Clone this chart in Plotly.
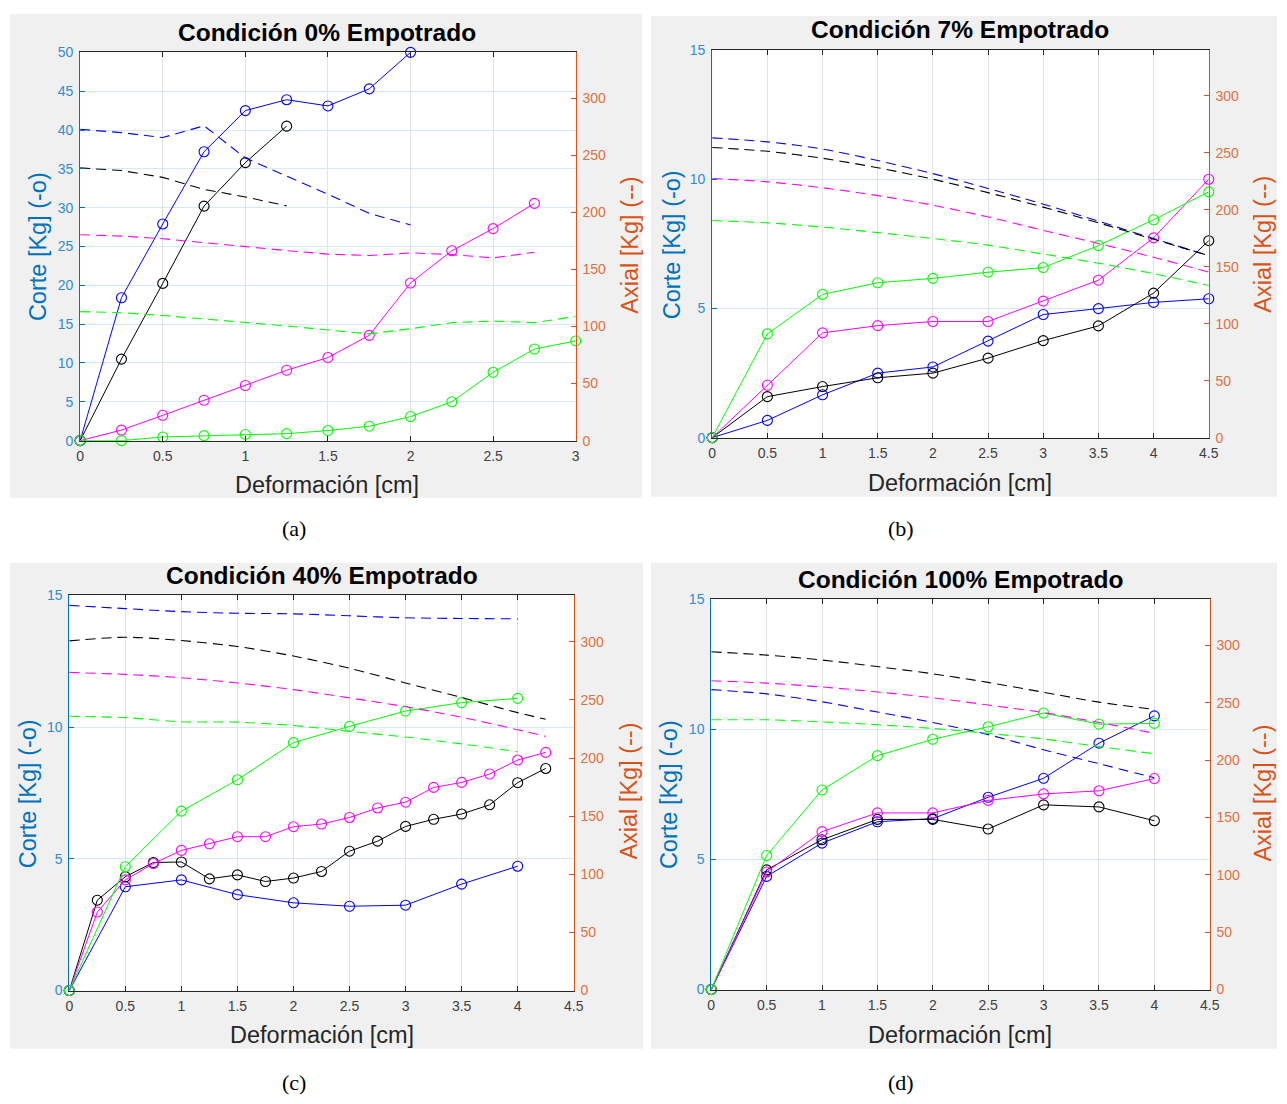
import plotly.graph_objects as go

# ---------------- DATA ----------------
# Panel (a): Condición 0% Empotrado
a_x = [0, 0.25, 0.5, 0.75, 1, 1.25, 1.5, 1.75, 2, 2.25, 2.5, 2.75, 3]
a_corte_blue = [0, 18.4, 27.9, 37.2, 42.5, 43.9, 43.1, 45.3, 50.0]
a_corte_black = [0, 10.5, 20.25, 30.2, 35.8, 40.5]
a_corte_magenta = [0, 1.36, 3.26, 5.2, 7.1, 9.07, 10.7, 13.56, 20.3, 24.45, 27.3, 30.55]
a_corte_green = [0, 0, 0.47, 0.64, 0.8, 0.9, 1.3, 1.86, 3.1, 5.0, 8.8, 11.8, 12.84]
a_axial_blue = [272.6, 269.7, 265.4, 275.7, 247.5, 231.6, 215.8, 199.0, 188.9]
a_axial_black = [238.8, 236.5, 230.5, 220.0, 213.4, 205.6]
a_axial_magenta = [180.3, 179.1, 176.8, 173.6, 169.9, 166.4, 163.3, 162.1, 164.4, 163.0, 160.0, 165.0]
a_axial_green = [113.0, 112.0, 109.6, 106.7, 103.3, 100.4, 96.9, 93.5, 98.0, 103.3, 104.7, 103.3, 108.7]

# Panel (b): Condición 7% Empotrado
b_x = [0, 0.5, 1, 1.5, 2, 2.5, 3, 3.5, 4, 4.5]
b_corte_blue = [0, 0.67, 1.66, 2.5, 2.74, 3.74, 4.77, 5.0, 5.24, 5.38]
b_corte_black = [0, 1.59, 1.98, 2.32, 2.5, 3.08, 3.76, 4.33, 5.6, 7.63]
b_corte_magenta = [0, 2.03, 4.06, 4.34, 4.5, 4.5, 5.29, 6.1, 7.74, 10.01]
b_corte_green = [0, 4.02, 5.55, 6.0, 6.17, 6.41, 6.59, 7.44, 8.44, 9.52]
b_axial_blue = [263.2, 259.7, 253.4, 243.3, 231.8, 218.8, 205.0, 190.0, 174.8, 159.8]
b_axial_black = [254.8, 251.4, 245.3, 237.0, 226.9, 215.1, 202.4, 188.6, 174.2, 159.8]
b_axial_magenta = [227.5, 224.6, 219.4, 212.5, 204.1, 193.8, 182.0, 170.5, 158.4, 145.4]
b_axial_green = [190.6, 188.6, 184.9, 180.0, 174.8, 169.0, 161.2, 153.2, 144.0, 133.6]

# Panel (c): Condición 40% Empotrado
c_x_half = [0, 0.5, 1, 1.5, 2, 2.5, 3, 3.5, 4]
c_x_quarter = [0, 0.25, 0.5, 0.75, 1, 1.25, 1.5, 1.75, 2, 2.25, 2.5, 2.75, 3, 3.25, 3.5, 3.75, 4, 4.25]
c_x_dash = [0, 0.5, 1, 1.5, 2, 2.5, 3, 3.5, 4, 4.25]
c_corte_blue = [0, 3.94, 4.2, 3.64, 3.33, 3.2, 3.24, 4.04, 4.72]
c_corte_black = [0, 3.43, 4.32, 4.86, 4.88, 4.24, 4.39, 4.14, 4.27, 4.52, 5.29, 5.67, 6.23, 6.5, 6.7, 7.05, 7.89, 8.43]
c_corte_magenta = [0, 2.98, 4.2, 4.82, 5.32, 5.57, 5.84, 5.84, 6.22, 6.32, 6.57, 6.93, 7.15, 7.71, 7.9, 8.22, 8.75, 9.04]
c_corte_green = [0, 4.7, 6.81, 8.0, 9.41, 10.03, 10.61, 10.93, 11.09]
c_axial_blue = [331.4, 328.6, 326.0, 324.6, 324.1, 322.4, 320.7, 320.1, 319.8]
c_axial_black = [300.8, 304.0, 301.1, 296.0, 287.8, 277.3, 264.6, 252.1, 239.1, 233.4]
c_axial_magenta = [273.7, 272.0, 269.1, 264.6, 258.9, 251.8, 244.2, 235.1, 224.4, 218.7]
c_axial_green = [236.0, 234.8, 231.2, 230.9, 228.0, 223.0, 218.1, 212.2, 205.4]

# Panel (d): Condición 100% Empotrado
d_x = [0, 0.5, 1, 1.5, 2, 2.5, 3, 3.5, 4]
d_corte_blue = [0, 4.35, 5.63, 6.45, 6.57, 7.39, 8.12, 9.47, 10.52]
d_corte_black = [0, 4.6, 5.76, 6.54, 6.54, 6.17, 7.1, 7.02, 6.49]
d_corte_magenta = [0, 4.52, 6.07, 6.79, 6.79, 7.27, 7.52, 7.64, 8.11]
d_corte_green = [0, 5.15, 7.67, 8.99, 9.62, 10.1, 10.63, 10.2, 10.23]
d_axial_black = [294.3, 291.4, 287.1, 281.4, 275.1, 267.6, 259.0, 250.4, 244.1]
d_axial_magenta = [269.0, 267.0, 263.6, 259.3, 254.2, 247.9, 241.3, 232.7, 223.2]
d_axial_blue = [261.3, 257.6, 250.7, 241.8, 232.7, 222.1, 208.9, 196.8, 184.5]
d_axial_green = [235.0, 235.0, 233.2, 230.7, 227.5, 223.2, 218.3, 211.7, 205.4]

titles = ["Condición 0% Empotrado", "Condición 7% Empotrado",
          "Condición 40% Empotrado", "Condición 100% Empotrado"]
captions = ["(a)", "(b)", "(c)", "(d)"]
x_label = "Deformación [cm]"
y_left_label = "Corte [Kg] (-o)"
y_right_label = "Axial [Kg] (--)"

# ---------------- STYLE / LAYOUT ----------------
W, H = 1287, 1104
BLUE = "#0000FF"
BLACK = "#000000"
MAGENTA = "#FF00FF"
GREEN = "#00FF00"
LEFT_C = "#0072BD"
RIGHT_C = "#D95319"
AX_C = "#262626"
FONT = "Liberation Sans, Arial, Helvetica, sans-serif"


def px(x):
    return x / W


def py(y):
    return 1 - y / H


# plot areas in pixels: (x0, x1, y_top, y_bottom)
areas = [(77, 578, 45, 439), (716, 1218, 43, 436), (66, 576, 596, 997), (715, 1219, 600, 996)]
# gray panels
panels = [(6, 645, 6, 497), (654, 1287, 8, 496), (6, 646, 563, 1056), (654, 1287, 563, 1056)]
title_pos = [(327, 25), (967, 22), (321, 576), (967, 580)]
xlab_pos = [(327, 484), (967, 482), (321, 1042), (967, 1042)]
ylab_pos = [(35, 242), (675, 240), (25, 797), (673, 798)]
rlab_pos = [(632, 241), (1272, 240), (632, 795), (1273, 797)]
cap_pos = [(293, 528), (907, 528), (293, 1090), (907, 1090)]
x_max = [3, 4.5, 4.5, 4.5]
y_left_max = [50, 15, 15, 15]
y_left_dtick = [5, 5, 5, 5]

fig = go.Figure()


def solid(x, y, color, i):
    xa = "x" if i == 0 else f"x{i+1}"
    ya = "y" if i == 0 else f"y{i+1}"
    fig.add_trace(go.Scatter(x=x[:len(y)], y=y, mode="lines+markers", xaxis=xa, yaxis=ya,
                             line=dict(color=color, width=1),
                             marker=dict(symbol="circle-open", size=10, color=color, line=dict(width=1.1)),
                             cliponaxis=False, showlegend=False, hoverinfo="x+y"))


def dashed(x, y, color, i, smooth):
    xa = "x" if i == 0 else f"x{i+1}"
    ya = f"y{i+5}"
    fig.add_trace(go.Scatter(x=x[:len(y)], y=y, mode="lines", xaxis=xa, yaxis=ya,
                             line=dict(color=color, width=1.1, dash="10px,6px",
                                       shape="spline" if smooth else "linear", smoothing=0.8),
                             showlegend=False, hoverinfo="x+y"))


# panel a
dashed(a_x, a_axial_blue, BLUE, 0, False)
dashed(a_x, a_axial_black, BLACK, 0, False)
dashed(a_x, a_axial_magenta, MAGENTA, 0, False)
dashed(a_x, a_axial_green, GREEN, 0, False)
solid(a_x, a_corte_blue, BLUE, 0)
solid(a_x, a_corte_black, BLACK, 0)
solid(a_x, a_corte_magenta, MAGENTA, 0)
solid(a_x, a_corte_green, GREEN, 0)
# panel b
dashed(b_x, b_axial_blue, BLUE, 1, True)
dashed(b_x, b_axial_black, BLACK, 1, True)
dashed(b_x, b_axial_magenta, MAGENTA, 1, True)
dashed(b_x, b_axial_green, GREEN, 1, True)
solid(b_x, b_corte_blue, BLUE, 1)
solid(b_x, b_corte_black, BLACK, 1)
solid(b_x, b_corte_magenta, MAGENTA, 1)
solid(b_x, b_corte_green, GREEN, 1)
# panel c
dashed(c_x_half, c_axial_blue, BLUE, 2, True)
dashed(c_x_dash, c_axial_black, BLACK, 2, True)
dashed(c_x_dash, c_axial_magenta, MAGENTA, 2, True)
dashed(c_x_half, c_axial_green, GREEN, 2, True)
solid(c_x_half, c_corte_blue, BLUE, 2)
solid(c_x_quarter, c_corte_black, BLACK, 2)
solid(c_x_quarter, c_corte_magenta, MAGENTA, 2)
solid(c_x_half, c_corte_green, GREEN, 2)
# panel d
dashed(d_x, d_axial_black, BLACK, 3, True)
dashed(d_x, d_axial_magenta, MAGENTA, 3, True)
dashed(d_x, d_axial_blue, BLUE, 3, True)
dashed(d_x, d_axial_green, GREEN, 3, True)
solid(d_x, d_corte_blue, BLUE, 3)
solid(d_x, d_corte_black, BLACK, 3)
solid(d_x, d_corte_magenta, MAGENTA, 3)
solid(d_x, d_corte_green, GREEN, 3)

layout = dict(width=W, height=H, margin=dict(l=0, r=0, t=0, b=0),
              paper_bgcolor="white", plot_bgcolor="rgba(0,0,0,0)", showlegend=False,
              font=dict(family=FONT, color=AX_C))
shapes = []
annotations = []
for i in range(4):
    x0, x1, yt, yb = areas[i]
    sx = "" if i == 0 else str(i + 1)
    layout[f"xaxis{sx}"] = dict(
        domain=[px(x0), px(x1)], anchor=f"y{sx}", range=[0, x_max[i]], dtick=0.5, tick0=0,
        showgrid=True, gridcolor="#E3E3E3", gridwidth=1, zeroline=False,
        showline=True, linecolor=AX_C, linewidth=1, mirror="ticks",
        ticks="inside", ticklen=5, tickcolor=AX_C, tickwidth=1,
        tickfont=dict(family=FONT, size=14, color="#404040"), ticklabelstandoff=3,
        fixedrange=True)
    layout[f"yaxis{sx}"] = dict(
        domain=[py(yb), py(yt)], anchor=f"x{sx}", range=[0, y_left_max[i]], dtick=y_left_dtick[i], tick0=0,
        showgrid=True, gridcolor="#D7E9F5", gridwidth=1, zeroline=False,
        showline=True, linecolor=LEFT_C, linewidth=1,
        ticks="inside", ticklen=5, tickcolor=LEFT_C, tickwidth=1,
        tickfont=dict(family=FONT, size=14, color="#2F8DD0"), ticklabelstandoff=3,
        fixedrange=True)
    layout[f"yaxis{i+5}"] = dict(
        domain=[py(yb), py(yt)], anchor=f"x{sx}", overlaying=f"y{sx}", side="right",
        range=[0, 340], tickvals=[0, 50, 100, 150, 200, 250, 300],
        showgrid=False, zeroline=False,
        showline=True, linecolor=RIGHT_C, linewidth=1,
        ticks="inside", ticklen=5, tickcolor=RIGHT_C, tickwidth=1,
        tickfont=dict(family=FONT, size=14, color="#E07040"), ticklabelstandoff=3,
        fixedrange=True)
    gx0, gx1, gy0, gy1 = panels[i]
    shapes.append(dict(type="rect", xref="paper", yref="paper", x0=px(gx0), x1=px(gx1),
                       y0=py(gy1), y1=py(gy0), fillcolor="#F0F0F0", line=dict(width=0), layer="below"))
    shapes.append(dict(type="rect", xref="paper", yref="paper", x0=px(x0), x1=px(x1),
                       y0=py(yb), y1=py(yt), fillcolor="#FFFFFF", line=dict(width=0), layer="below"))
    tx, ty = title_pos[i]
    annotations.append(dict(text=f"<b>{titles[i]}</b>", x=px(tx), y=py(ty), xref="paper", yref="paper",
                            showarrow=False, xanchor="center", yanchor="middle",
                            font=dict(family=FONT, size=24.5, color="#000000")))
    lx, ly = xlab_pos[i]
    annotations.append(dict(text=x_label, x=px(lx), y=py(ly), xref="paper", yref="paper",
                            showarrow=False, xanchor="center", yanchor="middle",
                            font=dict(family=FONT, size=23.5, color="#262626")))
    lx, ly = ylab_pos[i]
    annotations.append(dict(text=y_left_label, x=px(lx), y=py(ly), xref="paper", yref="paper",
                            showarrow=False, xanchor="center", yanchor="middle", textangle=-90,
                            font=dict(family=FONT, size=23.5, color=LEFT_C)))
    lx, ly = rlab_pos[i]
    annotations.append(dict(text=y_right_label, x=px(lx), y=py(ly), xref="paper", yref="paper",
                            showarrow=False, xanchor="center", yanchor="middle", textangle=-90,
                            font=dict(family=FONT, size=23.5, color=RIGHT_C)))
    cx, cy = cap_pos[i]
    annotations.append(dict(text=captions[i], x=px(cx), y=py(cy), xref="paper", yref="paper",
                            showarrow=False, xanchor="center", yanchor="middle",
                            font=dict(family="Liberation Serif, Times New Roman, serif", size=22, color="#000000")))

layout["shapes"] = shapes
layout["annotations"] = annotations
fig.update_layout(**layout)
fig.write_html("out.html", config={"displayModeBar": False},
               post_script="document.body.style.margin='0';document.body.style.padding='0';"
                           "document.body.style.overflow='hidden';")
